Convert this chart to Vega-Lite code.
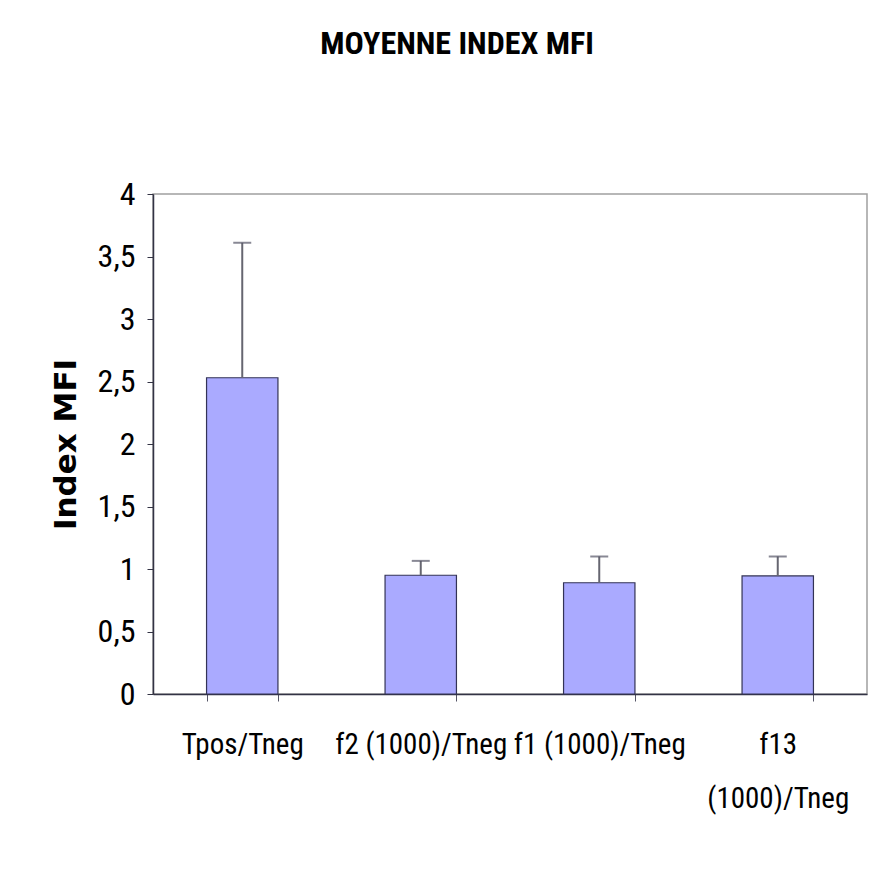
{
  "$schema": "https://vega.github.io/schema/vega-lite/v6.json",
  "autosize": {"type": "none"},
  "padding": {"left": 153, "top": 194, "right": 10, "bottom": 188},
  "width": 714,
  "height": 500,
  "background": "white",
  "title": {
    "text": "MOYENNE INDEX MFI",
    "font": "Roboto Condensed, DejaVu Sans Condensed",
    "fontSize": 32,
    "fontWeight": "bold",
    "color": "black",
    "anchor": "middle",
    "baseline": "alphabetic",
    "dx": -53,
    "offset": 92
  },
  "config": {
    "view": {"stroke": "#a0a0a0", "strokeWidth": 1.5},
    "axis": {"grid": false}
  },
  "data": {
    "values": [
      {"cat": "Tpos/Tneg", "value": 2.53, "upper": 3.61},
      {"cat": "f2 (1000)/Tneg", "value": 0.95, "upper": 1.065},
      {"cat": "f1 (1000)/Tneg", "value": 0.89, "upper": 1.1},
      {"cat": "f13 (1000)/Tneg", "value": 0.945, "upper": 1.1}
    ]
  },
  "encoding": {
    "x": {
      "field": "cat",
      "type": "nominal",
      "sort": null,
      "scale": {"paddingInner": 0.6, "paddingOuter": 0.3},
      "axis": {
        "title": null,
        "labelAngle": 0,
        "tickBand": "extent",
        "labelFont": "Roboto Condensed, DejaVu Sans Condensed",
        "labelFontSize": 29,
        "labelColor": "black",
        "labelPadding": 29,
        "labelLineHeight": 54,
        "labelLimit": 400,
        "tickSize": 7,
        "tickColor": "#555566",
        "domainColor": "#333344",
        "domainWidth": 1.5,
        "labelExpr": "datum.label == 'f13 (1000)/Tneg' ? ['f13', '(1000)/Tneg'] : datum.label"
      }
    }
  },
  "layer": [
    {
      "mark": {"type": "bar", "fill": "#aaaaff", "stroke": "#333355", "strokeWidth": 1.2},
      "encoding": {
        "y": {
          "field": "value",
          "type": "quantitative",
          "scale": {"domain": [0, 4], "nice": false},
          "axis": {
            "values": [0, 0.5, 1, 1.5, 2, 2.5, 3, 3.5, 4],
            "labelExpr": "replace(toString(datum.value), '.', ',')",
            "labelFont": "Roboto Condensed, DejaVu Sans Condensed",
            "labelFontSize": 32,
            "labelColor": "black",
            "labelPadding": 12,
            "tickSize": 6,
            "tickColor": "#333344",
            "domainColor": "#333344",
            "domainWidth": 1.5,
            "title": "Index MFI",
            "titleFont": "DejaVu Sans",
            "titleFontSize": 31,
            "titleFontWeight": "bold",
            "titleColor": "black",
            "titlePadding": 15
          }
        }
      }
    },
    {
      "mark": {"type": "rule", "color": "#666670", "strokeWidth": 2},
      "encoding": {
        "y": {"field": "value", "type": "quantitative"},
        "y2": {"field": "upper"}
      }
    },
    {
      "mark": {"type": "tick", "color": "#555566", "size": 18, "thickness": 2},
      "encoding": {
        "y": {"field": "upper", "type": "quantitative"}
      }
    }
  ]
}
